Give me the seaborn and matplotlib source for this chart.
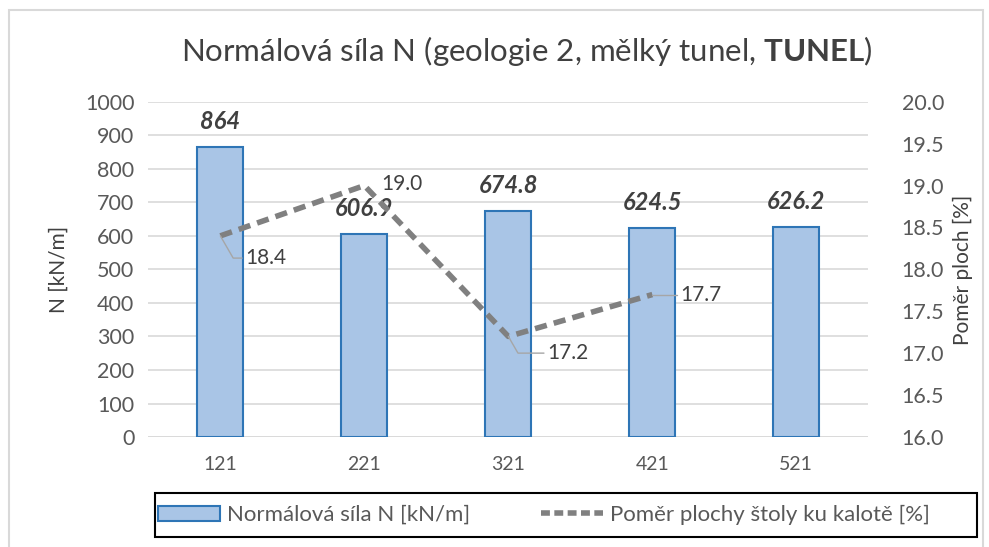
import numpy as np
import pandas as pd
import matplotlib
matplotlib.use("Agg")
import matplotlib.pyplot as plt
import seaborn as sns
from matplotlib.patches import Rectangle

# data
categories = ["121", "221", "321", "421", "521"]
normal_force = [864, 606.9, 674.8, 624.5, 626.2]
force_labels = ["864", "606.9", "674.8", "624.5", "626.2"]
ratio = [18.4, 19.0, 17.2, 17.7]

sns.set_style("white")
plt.rcParams['font.family'] = ['Lato', 'DejaVu Sans']
plt.rcParams['mathtext.fontset'] = 'custom'
plt.rcParams['mathtext.rm'] = 'Lato'
plt.rcParams['mathtext.bf'] = 'Lato:bold'

df = pd.DataFrame({"cat": categories, "N": normal_force})
df_ratio = pd.DataFrame({"pos": np.arange(len(ratio)), "ratio": ratio})

txt = "#595959"
fig = plt.figure(figsize=(9.89, 5.47), dpi=100)
ax = fig.add_axes([0.150, 0.201, 0.728, 0.613])
ax2 = ax.twinx()

sns.barplot(data=df, x="cat", y="N", ax=ax, color="#a9c5e6", saturation=1,
            width=0.32, edgecolor="#2e75b6", linewidth=1.5, zorder=2)
sns.lineplot(data=df_ratio, x="pos", y="ratio", ax=ax2, color="#808080",
             lw=4, linestyle=(0, (2.2, 1.3)), zorder=3)

ax.set_ylim(0, 1000)
ax.set_yticks(np.arange(0, 1001, 100))
ax2.set_ylim(16.0, 20.0)
ax2.set_yticks(np.arange(16.0, 20.01, 0.5))
ax2.set_yticklabels([f"{v:.1f}" for v in np.arange(16.0, 20.01, 0.5)])
ax.set_xlim(-0.5, 4.5)

ax.yaxis.grid(True, color="#d9d9d9", lw=1.2, zorder=0)
ax.set_axisbelow(True)
for a in (ax, ax2):
    for s in a.spines.values():
        s.set_visible(False)
    a.tick_params(length=0, labelsize=15.5, colors=txt, pad=10)
ax2.tick_params(pad=24)
ax.tick_params(axis="x", pad=14, labelsize=14)
ax.axhline(0, color="#d9d9d9", lw=1.2, zorder=1)

ax.set_xlabel("")
ax.set_ylabel("N [kN/m]", fontsize=15, color="#404040", labelpad=12)
ax2.set_ylabel("Poměr ploch [%]", fontsize=15, color="#404040", labelpad=6)

# bar data labels
for i, (v, lab) in enumerate(zip(normal_force, force_labels)):
    ax.annotate(lab, (i, v), xytext=(0, 10), textcoords="offset points",
                ha="center", va="bottom", fontsize=17, fontweight="bold",
                fontstyle="italic", color="#404040")

# line data labels, leader lines where the label sits away from the point
offsets = [(18, -16), (12, 1), (28, -12), (20, 0)]
leaders = [True, False, True, True]
for i, (v, off, lead) in enumerate(zip(ratio, offsets, leaders)):
    arrow = None
    if lead:
        arrow = dict(arrowstyle="-", color="#a6a6a6", lw=1,
                     connectionstyle="angle,angleA=0,angleB=-60,rad=0",
                     shrinkA=0, shrinkB=0)
    ax2.annotate(f"{v:.1f}", (i, v), xytext=off, textcoords="offset points",
                 ha="left", va="center", fontsize=15, color="#404040",
                 arrowprops=arrow)

fig.suptitle("Normálová síla N (geologie 2, mělký tunel, $\\mathbf{TUNEL}$)",
             x=0.533, y=0.937, fontsize=22.5, color="#404040")

# legend with a fixed-size frame box
fig.patches.append(Rectangle((155 / 989, 10 / 547), 822 / 989, 44 / 547,
                             transform=fig.transFigure, fill=False,
                             edgecolor="black", lw=1.5))
handles = [Rectangle((0, 0), 1, 1, facecolor="#a9c5e6", edgecolor="#2e75b6", lw=1.5),
           plt.Line2D([], [], color="#808080", lw=4, linestyle=(0, (1.6, 0.8)))]
leg = fig.legend(handles, ["Normálová síla N [kN/m]", "Poměr plochy štoly ku kalotě [%]"],
                 loc="center left", bbox_to_anchor=(158 / 989, 32 / 547),
                 ncol=2, fontsize=16, frameon=False,
                 handlelength=2.8, handletextpad=0.3, columnspacing=3.2,
                 borderaxespad=0, borderpad=0)
for t in leg.get_texts():
    t.set_color(txt)

fig.patches.append(Rectangle((0.009, -0.05), 0.985, 1.032, transform=fig.transFigure,
                             fill=False, edgecolor="#d9d9d9", lw=1.5))

fig.savefig("out.png", dpi=100)
